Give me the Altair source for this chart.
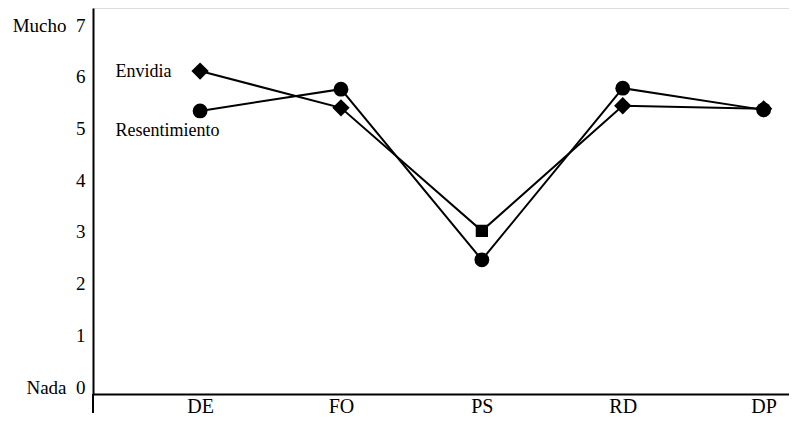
import json
import altair as alt
import pandas as pd

categories = ["DE", "FO", "PS", "RD", "DP"]
envidia = [6.11, 5.40, 3.02, 5.44, 5.38]
resentimiento = [5.34, 5.76, 2.46, 5.78, 5.36]
envidia_shapes = ["diamond", "diamond", "square", "diamond", "diamond"]
envidia_sizes = [300, 300, 150, 300, 300]
resent_shapes = ["circle"] * 5
resent_sizes = [220] * 5
series_labels = ["Envidia", "Resentimiento"]
label_y = [6.1, 4.95]

rows = []
for i, c in enumerate(categories):
    rows.append({"idx": i, "cat": c, "serie": "Envidia", "valor": envidia[i],
                 "shape": envidia_shapes[i], "size": envidia_sizes[i]})
for i, c in enumerate(categories):
    rows.append({"idx": i, "cat": c, "serie": "Resentimiento", "valor": resentimiento[i],
                 "shape": resent_shapes[i], "size": resent_sizes[i]})
df = pd.DataFrame(rows)
lab = pd.DataFrame({"texto": series_labels, "y": label_y, "x": [-0.6, -0.6]})

FONT = "Liberation Serif"
xscale = alt.Scale(domain=[-0.76, 4.18], nice=False, zero=False)
yscale = alt.Scale(domain=[-0.135, 7.33], nice=False, zero=False)

xaxis = alt.Axis(values=list(range(len(categories))), title=None, grid=False, ticks=False,
                 labelExpr=json.dumps(categories) + "[datum.value]",
                 labelFont=FONT, labelFontSize=20, labelColor="black", labelPadding=2,
                 domainColor="black", domainWidth=2)
yaxis = alt.Axis(values=list(range(8)), title=None, grid=False, ticks=False,
                 labelExpr="datum.value == 7 ? 'Mucho\u20027' : (datum.value == 0 ? 'Nada\u20020' : datum.value)",
                 labelFont=FONT, labelFontSize=19, labelColor="black", labelPadding=8,
                 domainColor="black", domainWidth=2)

base = alt.Chart(df)
lines = base.mark_line(color="black", strokeWidth=2).encode(
    x=alt.X("idx:Q", scale=xscale, axis=xaxis),
    y=alt.Y("valor:Q", scale=yscale, axis=yaxis),
    detail="serie:N",
    order="idx:Q",
)
points = base.mark_point(filled=True, color="black", opacity=1).encode(
    x=alt.X("idx:Q", scale=xscale),
    y=alt.Y("valor:Q", scale=yscale),
    shape=alt.Shape("shape:N", scale=None),
    size=alt.Size("size:Q", scale=None),
)
texts = alt.Chart(lab).mark_text(font=FONT, fontSize=18, align="left", baseline="middle",
                                 color="black").encode(
    x=alt.X("x:Q", scale=xscale),
    y=alt.Y("y:Q", scale=yscale),
    text="texto:N",
)
ext = alt.Chart(lab).mark_rule(color="black", strokeWidth=2).encode(
    x=alt.value(0), y=alt.value(386), y2=alt.value(405)
)

chart = alt.layer(lines, points, texts, ext).properties(
    width=696, height=386,
    padding={"left": 85, "top": 0, "right": 0, "bottom": 21},
    autosize=alt.AutoSizeParams(type="none"),
).configure_view(stroke=None).configure(background="white")

chart.save("out.html", embed_options={"renderer": "svg", "actions": False})
